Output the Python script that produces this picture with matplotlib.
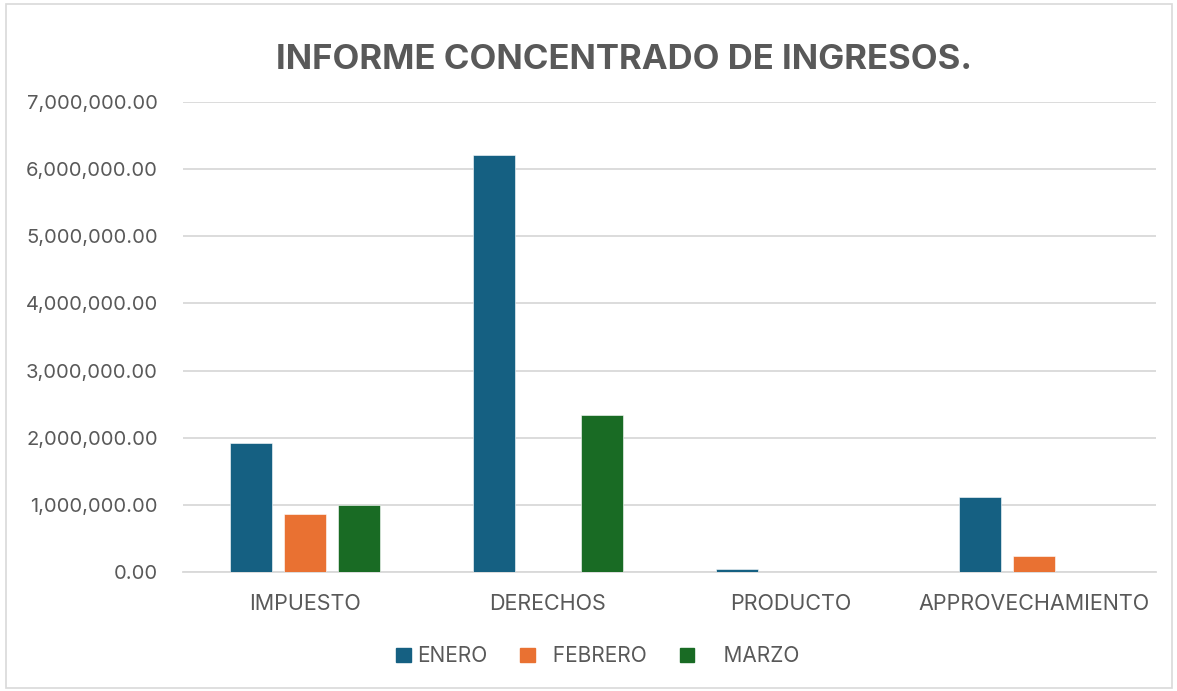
import matplotlib
matplotlib.use("Agg")
import matplotlib.pyplot as plt
import numpy as np
from matplotlib.patches import Rectangle
from matplotlib.ticker import FuncFormatter

categories = ["IMPUESTO", "DERECHOS", "PRODUCTO", "APPROVECHAMIENTO"]
series_names = ["ENERO", "FEBRERO", "MARZO"]
enero = [1920000, 6215000, 45000, 1117000]
febrero = [860000, 0, 0, 240000]
marzo = [995000, 2340000, 0, 0]
colors = ["#156082", "#E97132", "#196B24"]
title = "INFORME CONCENTRADO DE INGRESOS."

plt.rcParams['font.family'] = ['Inter', 'DejaVu Sans']
txt = "#595959"

W, H = 1177, 691
fig = plt.figure(figsize=(W/100, H/100), dpi=100)
fig.patches.append(Rectangle((6/W, 3/H), 1166/W, 684/H, transform=fig.transFigure,
                             fill=False, edgecolor="#D9D9D9", linewidth=1.2))

ax = fig.add_axes([183/W, 1-572/H, (1156-183)/W, (572-102)/H])
x = np.arange(len(categories))
bw = 0.173
step = 0.222
for i, (vals, name) in enumerate(zip([enero, febrero, marzo], series_names)):
    ax.bar(x + (i-1)*step, vals, width=bw, color=colors[i], label=name, zorder=3,
           edgecolor="white", linewidth=0.4)

ax.set_xlim(-0.5, len(categories)-0.5)
ax.set_ylim(0, 7000000)
ax.set_yticks(np.arange(0, 7000001, 1000000))
ax.yaxis.set_major_formatter(FuncFormatter(lambda v, p: f"{v:,.2f}"))
ax.grid(axis='y', color="#D9D9D9", linewidth=1.3, zorder=0)
for s in ['top', 'right', 'left']:
    ax.spines[s].set_visible(False)
ax.spines['bottom'].set_color("#D9D9D9")
ax.spines['bottom'].set_linewidth(1.3)
ax.tick_params(axis='both', length=0, colors=txt)
ax.tick_params(axis='y', pad=18, labelsize=14.5)
ax.tick_params(axis='x', pad=16, labelsize=15.5)
ax.set_xticks(x)
ax.set_xticklabels(categories)

fig.text(624/W, 1-60/H, title, ha='center', va='center', fontsize=25,
         fontweight='bold', color=txt)

handles = [Rectangle((0, 0), 1, 1, color=c) for c in colors]
labels = [series_names[0], "  " + series_names[1], "    " + series_names[2]]
leg = fig.legend(handles, labels, loc='center', bbox_to_anchor=(598/W, 1-656/H), ncol=3,
                 frameon=False, fontsize=15, handlelength=0.68, handleheight=0.68,
                 handletextpad=0.3, columnspacing=1.6)
for t in leg.get_texts():
    t.set_color(txt)

fig.savefig("out.png", dpi=100)
